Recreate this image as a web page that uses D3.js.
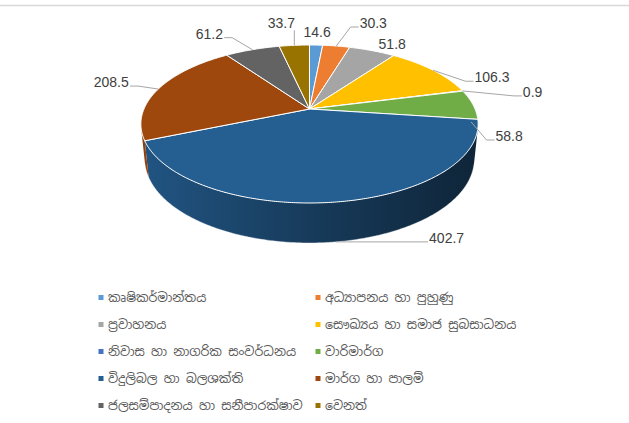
<!DOCTYPE html>
<html><head><meta charset="utf-8">
<script src="https://cdn.jsdelivr.net/npm/d3@7"></script>
<style>body{margin:0;background:#fff}svg{display:block}</style>
</head><body>
<svg id="chart" width="629" height="423"></svg>
<script>
// ---- data ----
const categories = [
  "කෘෂිකර්මාන්තය",
  "අධ්‍යාපනය හා පුහුණු",
  "ප්‍රවාහනය",
  "සෞඛ්‍යය හා සමාජ සුබසාධනය",
  "නිවාස හා නාගරික සංවර්ධනය",
  "වාරිමාර්ග",
  "විදුලිබල හා බලශක්ති",
  "මාර්ග හා පාලම්",
  "ජලසම්පාදනය හා සනීපාරක්ෂාව",
  "වෙනත්"
];
const values = [14.6, 30.3, 51.8, 106.3, 0.9, 58.8, 402.7, 208.5, 61.2, 33.7];
const colors = ["#5B9BD5","#ED7D31","#A5A5A5","#FFC000","#4472C4","#70AD47","#255E91","#9E480E","#636363","#997300"];

// ---- label layout tweaks (offset from anchor on rim, anchor depth fraction) ----
const labelOffsets = [[1,-13],[37,-23],[20,-7],[59,7],[70,1],[38,14],[111,-4],[-47,-7],[-43,-16],[-13,-22]];
const anchorDepth = [0,0,0,0,0,0.5,1,0,0,0];

const W = 629, H = 423;
const cx = 309.5, cy = 109;
const camD = 4.70, focalX = 778, focalY = 794, sT = 0.4507, cT = Math.sqrt(1 - sT*sT), thick = 0.2347;

function proj(a, r, df) {
  const x = r*Math.sin(a), z = -r*Math.cos(a), y = -thick*df;
  const py = y*cT - z*sT;
  const dep = camD - (y*sT + z*cT);
  return [cx + focalX*x/dep, cy - focalY*py/dep];
}

const svg = d3.select("#chart");
const defs = svg.append("defs");

// top rule
svg.append("line").attr("x1",0).attr("x2",W).attr("y1",5.5).attr("y2",5.5)
  .attr("stroke","#d9d9d9").attr("stroke-width",1.5);

const pie = d3.pie().sort(null).startAngle(0).endAngle(2*Math.PI).value(d=>d);
const arcs = pie(values);

function arcPts(a0, a1, df) {
  const n = Math.max(2, Math.ceil((a1-a0)/0.01));
  const s = d3.scaleLinear().domain([0,n]).range([a0,a1]);
  return d3.range(n+1).map(i => proj(s(i), 1, df));
}
const line = d3.line();

// gradients for walls
const xL = proj(3*Math.PI/2,1,0)[0], xR = proj(Math.PI/2,1,0)[0];
colors.forEach((c,i) => {
  const g = defs.append("linearGradient").attr("id","wg"+i)
    .attr("gradientUnits","userSpaceOnUse").attr("x1",xL).attr("x2",xR).attr("y1",0).attr("y2",0);
  const base = d3.color(c);
  [[0,0.3],[0.5,1.3],[1,2.6]].forEach(([o,k]) =>
    g.append("stop").attr("offset",o).attr("stop-color", base.darker(k).formatHex()));
});

// walls
const aV0 = Math.acos(-1/(camD*cT)), aV1 = 2*Math.PI - aV0;
arcs.forEach((d,i) => {
  const a0 = Math.max(d.startAngle, aV0), a1 = Math.min(d.endAngle, aV1);
  if (a1 <= a0) return;
  const top = arcPts(a0,a1,0), bot = arcPts(a0,a1,1).reverse();
  svg.append("path").attr("d", line(top.concat(bot)) + "Z")
    .attr("fill","url(#wg"+i+")").attr("stroke","none");
});
{
  const pts = arcPts(aV0, aV1, 1);
  svg.append("path").attr("d", line(pts)).attr("fill","none").attr("stroke","#ffffff").attr("stroke-opacity",0.5).attr("stroke-width",0.8);
}

// top faces
arcs.forEach((d,i) => {
  const pts = [proj(0,0,0)].concat(arcPts(d.startAngle, d.endAngle, 0));
  svg.append("path").attr("d", line(pts) + "Z")
    .attr("fill", colors[i]).attr("stroke","#ffffff").attr("stroke-width",1).attr("stroke-linejoin","round");
});

// data labels + leaders
const labelG = svg.append("g");
arcs.forEach((d,i) => {
  const mid = (d.startAngle + d.endAngle)/2;
  const anc = proj(mid, 1, anchorDepth[i]);
  const lx = anc[0] + labelOffsets[i][0], ly = anc[1] + labelOffsets[i][1];
  const t = labelG.append("text").attr("x",lx).attr("y",ly).attr("text-anchor","middle")
    .attr("dominant-baseline","central").attr("font-family","'Liberation Sans', Arial, sans-serif")
    .attr("font-size",14).attr("fill","#404040").text(d.data.toFixed(1));
  const bb = t.node().getBBox();
  const x0 = bb.x - 1, x1 = bb.x + bb.width + 1, y0 = bb.y + 1, y1 = bb.y + bb.height - 1;
  const nx = Math.max(x0, Math.min(x1, anc[0])), ny = Math.max(y0, Math.min(y1, anc[1]));
  const dist = Math.hypot(anc[0]-nx, anc[1]-ny);
  if (dist < 10) return;
  let pts;
  if (anc[0] > x1 || anc[0] < x0) {
    const sx = anc[0] > x1 ? x1 : x0, dir = anc[0] > x1 ? 1 : -1;
    const sy = ly + 4;
    pts = [[sx, sy],[sx + dir*8, sy], anc];
  } else {
    pts = [[nx, ny], anc];
  }
  labelG.append("path").attr("d", line(pts)).attr("fill","none").attr("stroke","#a6a6a6").attr("stroke-width",1);
});

// legend
const legendRows = d3.scaleBand().domain(d3.range(5)).range([284, 419]);
const legendCols = [101, 318];
const lg = svg.append("g");
categories.forEach((c,i) => {
  const row = Math.floor(i/2), col = i % 2;
  const y = legendRows(row) + legendRows.bandwidth()/2;
  const x = legendCols[col];
  lg.append("rect").attr("x",x-2.5).attr("y",y-2.5).attr("width",5).attr("height",5).attr("fill",colors[i]);
  lg.append("text").attr("x",x+7).attr("y",y).attr("dominant-baseline","central")
    .attr("font-family","'Noto Sans Sinhala','Iskoola Pota','Nirmala UI',sans-serif")
    .attr("font-size",12.5).attr("fill","#595959").text(c);
});
</script>
</body></html>
